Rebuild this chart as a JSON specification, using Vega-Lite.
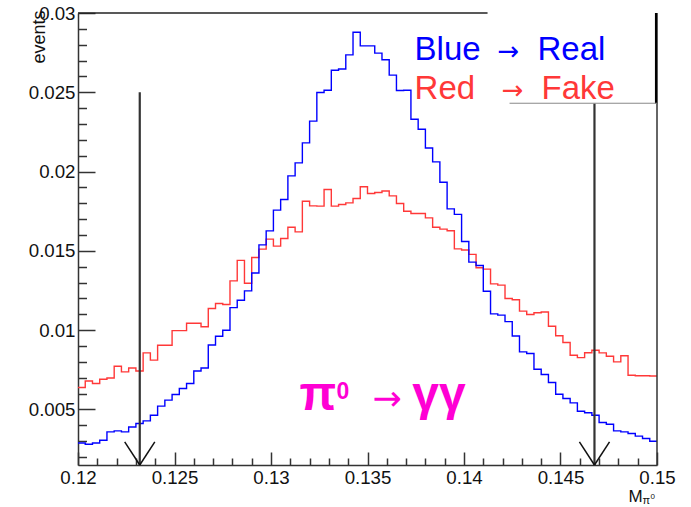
{
  "$schema": "https://vega.github.io/schema/vega-lite/v6.json",
  "width": 579,
  "height": 452,
  "autosize": {"type": "none"},
  "padding": {"left": 78, "top": 13, "right": 34, "bottom": 42},
  "background": "white",
  "config": {"view": {"stroke": null}, "font": "Liberation Sans"},
  "layer": [
    {
      "data": {"values": [
        {"x": 0.12, "real": 0.00289, "fake": 0.00639},
        {"x": 0.120375, "real": 0.00281, "fake": 0.00680},
        {"x": 0.12075, "real": 0.00289, "fake": 0.00664},
        {"x": 0.121125, "real": 0.00306, "fake": 0.00691},
        {"x": 0.1215, "real": 0.00359, "fake": 0.00699},
        {"x": 0.121875, "real": 0.00365, "fake": 0.00773},
        {"x": 0.12225, "real": 0.00359, "fake": 0.00737},
        {"x": 0.122625, "real": 0.00390, "fake": 0.00762},
        {"x": 0.123, "real": 0.00412, "fake": 0.00743},
        {"x": 0.123375, "real": 0.00428, "fake": 0.00857},
        {"x": 0.12375, "real": 0.00464, "fake": 0.00811},
        {"x": 0.124125, "real": 0.00521, "fake": 0.00905},
        {"x": 0.1245, "real": 0.00559, "fake": 0.00905},
        {"x": 0.124875, "real": 0.00595, "fake": 0.00997},
        {"x": 0.12525, "real": 0.00632, "fake": 0.00997},
        {"x": 0.125625, "real": 0.00664, "fake": 0.01044},
        {"x": 0.126, "real": 0.00743, "fake": 0.01044},
        {"x": 0.126375, "real": 0.00762, "fake": 0.01022},
        {"x": 0.12675, "real": 0.00907, "fake": 0.01137},
        {"x": 0.127125, "real": 0.00962, "fake": 0.01168},
        {"x": 0.1275, "real": 0.01000, "fake": 0.01162},
        {"x": 0.127875, "real": 0.01142, "fake": 0.01311},
        {"x": 0.12825, "real": 0.01189, "fake": 0.01440},
        {"x": 0.128625, "real": 0.01248, "fake": 0.01296},
        {"x": 0.129, "real": 0.01361, "fake": 0.01458},
        {"x": 0.129375, "real": 0.01538, "fake": 0.01511},
        {"x": 0.12975, "real": 0.01626, "fake": 0.01574},
        {"x": 0.130125, "real": 0.01757, "fake": 0.01530},
        {"x": 0.1305, "real": 0.01824, "fake": 0.01578},
        {"x": 0.130875, "real": 0.01973, "fake": 0.01649},
        {"x": 0.13125, "real": 0.02055, "fake": 0.01620},
        {"x": 0.131625, "real": 0.02181, "fake": 0.01813},
        {"x": 0.132, "real": 0.02318, "fake": 0.01784},
        {"x": 0.132375, "real": 0.02499, "fake": 0.01782},
        {"x": 0.13275, "real": 0.02513, "fake": 0.01887},
        {"x": 0.133125, "real": 0.02639, "fake": 0.01782},
        {"x": 0.1335, "real": 0.02647, "fake": 0.01793},
        {"x": 0.133875, "real": 0.02736, "fake": 0.01803},
        {"x": 0.13425, "real": 0.02879, "fake": 0.01830},
        {"x": 0.134625, "real": 0.02793, "fake": 0.01904},
        {"x": 0.135, "real": 0.02793, "fake": 0.01862},
        {"x": 0.135375, "real": 0.02747, "fake": 0.01868},
        {"x": 0.13575, "real": 0.02705, "fake": 0.01878},
        {"x": 0.136125, "real": 0.02608, "fake": 0.01847},
        {"x": 0.1365, "real": 0.02511, "fake": 0.01799},
        {"x": 0.136875, "real": 0.02513, "fake": 0.01750},
        {"x": 0.13725, "real": 0.02330, "fake": 0.01736},
        {"x": 0.137625, "real": 0.02267, "fake": 0.01736},
        {"x": 0.138, "real": 0.02149, "fake": 0.01708},
        {"x": 0.138375, "real": 0.02061, "fake": 0.01649},
        {"x": 0.13875, "real": 0.01933, "fake": 0.01637},
        {"x": 0.139125, "real": 0.01765, "fake": 0.01627},
        {"x": 0.1395, "real": 0.01730, "fake": 0.01513},
        {"x": 0.139875, "real": 0.01559, "fake": 0.01506},
        {"x": 0.14025, "real": 0.01429, "fake": 0.01478},
        {"x": 0.140625, "real": 0.01408, "fake": 0.01394},
        {"x": 0.141, "real": 0.01246, "fake": 0.01385},
        {"x": 0.141375, "real": 0.01103, "fake": 0.01292},
        {"x": 0.14175, "real": 0.01095, "fake": 0.01284},
        {"x": 0.142125, "real": 0.01054, "fake": 0.01200},
        {"x": 0.1425, "real": 0.00963, "fake": 0.01192},
        {"x": 0.142875, "real": 0.00863, "fake": 0.01120},
        {"x": 0.14325, "real": 0.00853, "fake": 0.01099},
        {"x": 0.143625, "real": 0.00754, "fake": 0.01110},
        {"x": 0.144, "real": 0.00721, "fake": 0.01115},
        {"x": 0.144375, "real": 0.00670, "fake": 0.01025},
        {"x": 0.14475, "real": 0.00596, "fake": 0.00965},
        {"x": 0.145125, "real": 0.00569, "fake": 0.00922},
        {"x": 0.1455, "real": 0.00542, "fake": 0.00842},
        {"x": 0.145875, "real": 0.00489, "fake": 0.00827},
        {"x": 0.14625, "real": 0.00479, "fake": 0.00858},
        {"x": 0.146625, "real": 0.00464, "fake": 0.00874},
        {"x": 0.147, "real": 0.00418, "fake": 0.00857},
        {"x": 0.147375, "real": 0.00407, "fake": 0.00836},
        {"x": 0.14775, "real": 0.00365, "fake": 0.00800},
        {"x": 0.148125, "real": 0.00359, "fake": 0.00839},
        {"x": 0.1485, "real": 0.00349, "fake": 0.00716},
        {"x": 0.148875, "real": 0.00332, "fake": 0.00713},
        {"x": 0.14925, "real": 0.00317, "fake": 0.00713},
        {"x": 0.149625, "real": 0.00300, "fake": 0.00711},
        {"x": 0.15, "real": 0.00300, "fake": 0.00711}
      ]},
      "transform": [{"fold": ["fake", "real"], "as": ["series", "value"]}],
      "mark": {"type": "line", "interpolate": "step-after", "strokeWidth": 1.4},
      "encoding": {
        "x": {
          "field": "x", "type": "quantitative",
          "scale": {"domain": [0.12, 0.15], "nice": false, "zero": false},
          "axis": {
            "values": [0.12,0.121,0.122,0.123,0.124,0.125,0.126,0.127,0.128,0.129,0.13,0.131,0.132,0.133,0.134,0.135,0.136,0.137,0.138,0.139,0.14,0.141,0.142,0.143,0.144,0.145,0.146,0.147,0.148,0.149,0.15],
            "tickCount": 100,
            "labelExpr": "round(datum.value*1000) % 5 == 0 ? format(datum.value, '.3~f') : ''",
            "tickSize": {"condition": {"test": "round(datum.value*1000) % 5 == 0", "value": -13}, "value": -7},
            "tickColor": "#333", "tickWidth": 1.5,
            "domainColor": "#333", "domainWidth": 1.5,
            "labelFontSize": 18.7, "labelColor": "#111", "labelFont": "Liberation Sans",
            "labelPadding": 16, "labelFlush": false, "labelOverlap": false, "labelBound": false,
            "grid": false, "title": null
          }
        },
        "y": {
          "field": "value", "type": "quantitative",
          "scale": {"domain": [0.0015, 0.03], "nice": false, "zero": false},
          "axis": {
            "values": [0.002,0.003,0.004,0.005,0.006,0.007,0.008,0.009,0.01,0.011,0.012,0.013,0.014,0.015,0.016,0.017,0.018,0.019,0.02,0.021,0.022,0.023,0.024,0.025,0.026,0.027,0.028,0.029,0.03],
            "tickCount": 100,
            "labelExpr": "round(datum.value*1000) % 5 == 0 ? format(datum.value, '.3~f') : ''",
            "tickSize": {"condition": {"test": "round(datum.value*1000) % 5 == 0", "value": -17}, "value": -8.5},
            "tickColor": "#333", "tickWidth": 1.5,
            "domainColor": "#333", "domainWidth": 1.5,
            "labelFontSize": 18.7, "labelColor": "#111", "labelFont": "Liberation Sans",
            "labelPadding": 20, "labelFlush": false, "labelOverlap": false, "labelBound": false,
            "grid": false,
            "title": "events", "titleFont": "Liberation Sans", "titleFontSize": 18, "titleFontWeight": "normal",
            "titleColor": "#111", "titleAngle": -90, "titleAlign": "right", "titleBaseline": "middle",
            "titleX": -39, "titleY": -3
          }
        },
        "color": {
          "field": "series", "type": "nominal",
          "scale": {"domain": ["fake", "real"], "range": ["#ff3838", "#0000ff"]},
          "legend": null
        }
      }
    },
    {
      "data": {"values": [{"x": 0.1232, "top": 0.025}, {"x": 0.14676, "top": 0.0243}]},
      "mark": {"type": "rule", "color": "#333", "strokeWidth": 2.2},
      "encoding": {
        "x": {"field": "x", "type": "quantitative"},
        "y": {"field": "top", "type": "quantitative"},
        "y2": {"datum": 0.0015}
      }
    },
    {
      "data": {"values": [
        {"x": 0.12242, "y": 0.00296, "x2": 0.1232, "y2": 0.0015},
        {"x": 0.12398, "y": 0.00296, "x2": 0.1232, "y2": 0.0015},
        {"x": 0.14598, "y": 0.00296, "x2": 0.14676, "y2": 0.0015},
        {"x": 0.14754, "y": 0.00296, "x2": 0.14676, "y2": 0.0015}
      ]},
      "mark": {"type": "rule", "color": "#111", "strokeWidth": 1.5},
      "encoding": {
        "x": {"field": "x", "type": "quantitative"},
        "y": {"field": "y", "type": "quantitative"},
        "x2": {"field": "x2"},
        "y2": {"field": "y2"}
      }
    },
    {
      "data": {"values": [{"a": 0.12, "b": 0.14122, "y": 0.03}]},
      "mark": {"type": "rule", "color": "#222", "strokeWidth": 1.5},
      "encoding": {
        "x": {"field": "a", "type": "quantitative"},
        "x2": {"field": "b"},
        "y": {"field": "y", "type": "quantitative"}
      }
    },
    {
      "data": {"values": [{"x": 0.15, "lo": 0.0015, "hi": 0.03}]},
      "mark": {"type": "rule", "color": "#333", "strokeWidth": 1.5},
      "encoding": {
        "x": {"field": "x", "type": "quantitative"},
        "y": {"field": "lo", "type": "quantitative"},
        "y2": {"field": "hi"}
      }
    },
    {
      "data": {"values": [{"x": 0.14995, "lo": 0.0243, "hi": 0.03}]},
      "mark": {"type": "rule", "color": "#000", "strokeWidth": 2.2},
      "encoding": {
        "x": {"field": "x", "type": "quantitative"},
        "y": {"field": "lo", "type": "quantitative"},
        "y2": {"field": "hi"}
      }
    },
    {
      "data": {"values": [{"a": 0.14236, "b": 0.15, "y": 0.02431}]},
      "mark": {"type": "rule", "color": "#888", "strokeWidth": 1},
      "encoding": {
        "x": {"field": "a", "type": "quantitative"},
        "x2": {"field": "b"},
        "y": {"field": "y", "type": "quantitative"}
      }
    },
    {
      "data": {"values": [
        {"t": "Blue", "x": 0.13744, "y": 0.02702, "series": "real"},
        {"t": "Real", "x": 0.14381, "y": 0.02702, "series": "real"},
        {"t": "Red", "x": 0.13744, "y": 0.02457, "series": "fake"},
        {"t": "Fake", "x": 0.14402, "y": 0.02457, "series": "fake"}
      ]},
      "mark": {"type": "text", "align": "left", "baseline": "alphabetic", "fontSize": 33, "font": "Liberation Sans"},
      "encoding": {
        "x": {"field": "x", "type": "quantitative"},
        "y": {"field": "y", "type": "quantitative"},
        "text": {"field": "t"},
        "color": {"field": "series", "type": "nominal", "legend": null}
      }
    },
    {
      "data": {"values": [
        {"t": "→", "x": 0.14174, "y": 0.02702, "series": "real"},
        {"t": "→", "x": 0.14195, "y": 0.02457, "series": "fake"}
      ]},
      "mark": {"type": "text", "align": "left", "baseline": "alphabetic", "fontSize": 26, "font": "DejaVu Sans"},
      "encoding": {
        "x": {"field": "x", "type": "quantitative"},
        "y": {"field": "y", "type": "quantitative"},
        "text": {"field": "t"},
        "color": {"field": "series", "type": "nominal", "legend": null}
      }
    },
    {
      "data": {"values": [
        {"t": "π", "x": 0.13148, "y": 0.00496},
        {"t": "γγ", "x": 0.13732, "y": 0.00496}
      ]},
      "mark": {"type": "text", "align": "left", "baseline": "alphabetic", "fontSize": 48, "fontWeight": "bold", "font": "Liberation Sans", "color": "#ff00d4"},
      "encoding": {
        "x": {"field": "x", "type": "quantitative"},
        "y": {"field": "y", "type": "quantitative"},
        "text": {"field": "t"}
      }
    },
    {
      "data": {"values": [{"t": "0", "x": 0.1334, "y": 0.00569}]},
      "mark": {"type": "text", "align": "left", "baseline": "alphabetic", "fontSize": 23, "fontWeight": "bold", "font": "Liberation Sans", "color": "#ff00d4"},
      "encoding": {
        "x": {"field": "x", "type": "quantitative"},
        "y": {"field": "y", "type": "quantitative"},
        "text": {"field": "t"}
      }
    },
    {
      "data": {"values": [{"t": "→", "x": 0.13526, "y": 0.00496}]},
      "mark": {"type": "text", "align": "left", "baseline": "alphabetic", "fontSize": 35, "font": "DejaVu Sans", "color": "#ff00d4"},
      "encoding": {
        "x": {"field": "x", "type": "quantitative"},
        "y": {"field": "y", "type": "quantitative"},
        "text": {"field": "t"}
      }
    },
    {
      "data": {"values": [{"t": "M", "x": 0.14852, "y": -0.00083}]},
      "mark": {"type": "text", "align": "left", "baseline": "alphabetic", "fontSize": 17, "font": "Liberation Sans", "color": "#111"},
      "encoding": {
        "x": {"field": "x", "type": "quantitative"},
        "y": {"field": "y", "type": "quantitative"},
        "text": {"field": "t"}
      }
    },
    {
      "data": {"values": [{"t": "π", "x": 0.14925, "y": -0.00097}]},
      "mark": {"type": "text", "align": "left", "baseline": "alphabetic", "fontSize": 11, "font": "Liberation Sans", "color": "#111"},
      "encoding": {
        "x": {"field": "x", "type": "quantitative"},
        "y": {"field": "y", "type": "quantitative"},
        "text": {"field": "t"}
      }
    },
    {
      "data": {"values": [{"t": "0", "x": 0.14966, "y": -0.00065}]},
      "mark": {"type": "text", "align": "left", "baseline": "alphabetic", "fontSize": 8, "font": "Liberation Sans", "color": "#111"},
      "encoding": {
        "x": {"field": "x", "type": "quantitative"},
        "y": {"field": "y", "type": "quantitative"},
        "text": {"field": "t"}
      }
    }
  ]
}
